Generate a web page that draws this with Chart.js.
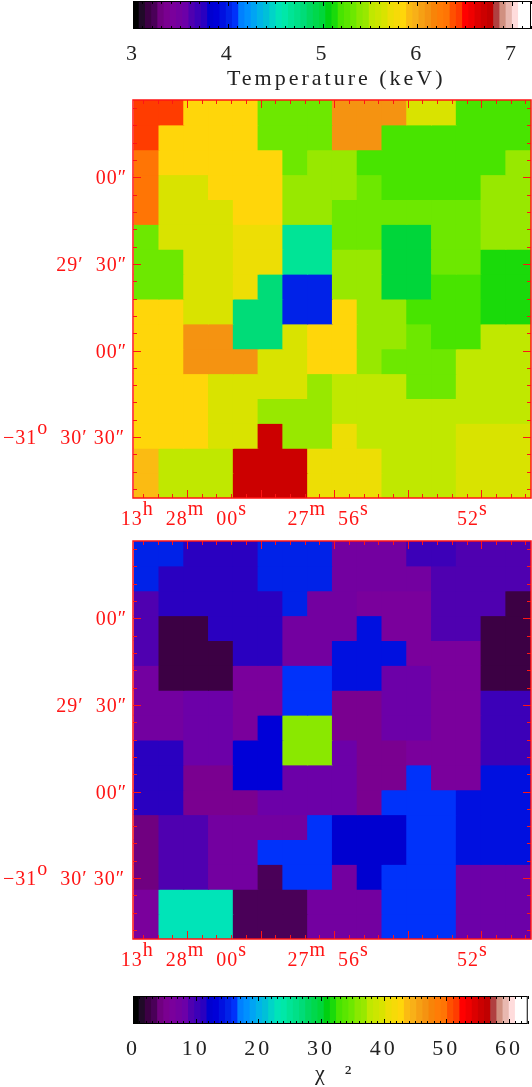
<!DOCTYPE html>
<html>
<head>
<meta charset="utf-8">
<title>Temperature and chi-square maps</title>
<script src="https://cdn.jsdelivr.net/npm/chart.js@4/dist/chart.umd.min.js"></script>
<style>
  body { margin: 0; background: #fff; }
  canvas { position: absolute; left: 0; }
</style>
</head>
<body>
<canvas id="tempBar" width="532" height="92" style="top:0"></canvas>
<canvas id="tempMap" width="532" height="445" style="top:90px"></canvas>
<canvas id="chiMap" width="532" height="445" style="top:535px"></canvas>
<canvas id="chiBar" width="532" height="102" style="top:985px"></canvas>
<script>
// Fitted temperature per cell (keV), top row first
const tempGrid = [
  [6.45,6.45,5.85,5.85,5.85,5.33,5.33,5.33,6.12,6.12,6.12,5.66,5.66,5.20,5.20,5.20],
  [6.45,5.85,5.85,5.85,5.85,5.33,5.33,5.33,6.12,6.12,5.20,5.20,5.20,5.20,5.20,5.20],
  [6.31,5.85,5.85,5.85,5.85,5.85,5.33,5.46,5.46,5.20,5.20,5.20,5.20,5.20,5.20,5.46],
  [6.31,5.66,5.66,5.85,5.85,5.85,5.46,5.46,5.46,5.33,5.20,5.20,5.20,5.20,5.46,5.46],
  [6.31,5.66,5.66,5.66,5.85,5.85,5.46,5.46,5.33,5.33,5.33,5.33,5.33,5.33,5.46,5.46],
  [5.33,5.66,5.66,5.66,5.72,5.72,4.67,4.67,5.33,5.33,4.99,4.99,5.33,5.33,5.46,5.46],
  [5.33,5.33,5.66,5.66,5.72,5.72,4.67,4.67,5.46,5.46,4.99,4.99,5.33,5.33,5.13,5.13],
  [5.33,5.33,5.66,5.66,5.72,4.80,4.02,4.02,5.46,5.46,4.99,4.99,5.20,5.20,5.13,5.13],
  [5.85,5.85,5.66,5.66,4.80,4.80,4.02,4.02,5.85,5.46,5.46,5.20,5.20,5.20,5.13,5.13],
  [5.85,5.85,6.12,6.12,4.80,4.80,5.66,5.85,5.85,5.46,5.46,5.33,5.20,5.20,5.53,5.53],
  [5.85,5.85,6.12,6.12,6.12,5.66,5.66,5.85,5.85,5.46,5.33,5.33,5.33,5.53,5.53,5.53],
  [5.85,5.85,5.85,5.66,5.66,5.66,5.66,5.46,5.53,5.53,5.53,5.33,5.33,5.53,5.53,5.53],
  [5.85,5.85,5.85,5.66,5.66,5.46,5.46,5.46,5.53,5.53,5.53,5.53,5.53,5.53,5.53,5.53],
  [5.85,5.85,5.85,5.66,5.66,6.71,5.46,5.46,5.72,5.53,5.53,5.53,5.53,5.66,5.66,5.66],
  [5.92,5.53,5.53,5.53,6.71,6.71,6.71,5.72,5.72,5.72,5.53,5.53,5.53,5.66,5.66,5.66],
  [5.92,5.53,5.53,5.53,6.71,6.71,6.71,5.72,5.72,5.72,5.53,5.53,5.53,5.66,5.66,5.66]
];

// Chi-square per cell, top row first
const chiGrid = [
  [15.3,15.3,11.3,11.3,11.3,15.3,15.3,15.3,7.4,7.4,7.4,10.3,10.3,9.4,9.4,9.4],
  [15.3,11.3,11.3,11.3,11.3,15.3,15.3,15.3,7.4,7.4,7.4,7.4,9.4,9.4,9.4,9.4],
  [9.4,11.3,11.3,11.3,11.3,11.3,15.3,7.4,7.4,6.4,6.4,6.4,9.4,9.4,9.4,2.5],
  [9.4,2.5,2.5,11.3,11.3,11.3,7.4,7.4,7.4,14.3,6.4,6.4,9.4,9.4,2.5,2.5],
  [9.4,2.5,2.5,2.5,11.3,11.3,7.4,7.4,14.3,14.3,14.3,6.4,6.4,6.4,2.5,2.5],
  [7.4,2.5,2.5,2.5,6.4,6.4,16.2,16.2,14.3,14.3,8.4,8.4,6.4,6.4,2.5,2.5],
  [7.4,7.4,8.4,8.4,6.4,6.4,16.2,16.2,5.4,5.4,8.4,8.4,6.4,6.4,10.3,10.3],
  [7.4,7.4,8.4,8.4,6.4,13.3,35.9,35.9,5.4,5.4,8.4,8.4,6.4,6.4,10.3,10.3],
  [11.3,11.3,8.4,8.4,13.3,13.3,35.9,35.9,8.4,5.4,5.4,6.4,6.4,6.4,10.3,10.3],
  [11.3,11.3,5.4,5.4,13.3,13.3,8.4,8.4,8.4,5.4,5.4,16.2,6.4,6.4,14.3,14.3],
  [11.3,11.3,5.4,5.4,5.4,8.4,8.4,8.4,8.4,5.4,16.2,16.2,16.2,14.3,14.3,14.3],
  [4.4,9.4,9.4,7.4,7.4,7.4,7.4,16.2,12.3,12.3,12.3,16.2,16.2,14.3,14.3,14.3],
  [4.4,9.4,9.4,7.4,7.4,16.2,16.2,16.2,12.3,12.3,12.3,16.2,16.2,14.3,14.3,14.3],
  [4.4,9.4,9.4,7.4,7.4,3.4,16.2,16.2,7.4,12.3,16.2,16.2,16.2,8.4,8.4,8.4],
  [6.4,23.1,23.1,23.1,3.4,3.4,3.4,7.4,7.4,7.4,16.2,16.2,16.2,8.4,8.4,8.4],
  [6.4,23.1,23.1,23.1,3.4,3.4,3.4,7.4,7.4,7.4,16.2,16.2,16.2,8.4,8.4,8.4]
];

// Axis labels. ^x means the next character is raised
const raTicks = [60, 56, 52];
const raLabels = ['13^h  28^m  00^s', '27^m  56^s', '52^s'];
const decTicks = [-1740, -1770, -1800, -1830];
const decLabels = ['00\u2033', '29\u2032  30\u2033', '00\u2033', '\u221231^o  30\u2032 30\u2033'];
const tempTicks = [3, 4, 5, 6, 7];
const chiTicks = [0, 10, 20, 30, 40, 50, 60];

// Colour table as seen on the two colour bars
const palette = [
  '#000000','#200a28','#3c0044','#4a0058','#700080','#7a0090','#7a009c','#7300a0',
  '#6c00a8','#4f00b0','#3c00b8','#2a00c0','#0000d0','#0000d8','#0010e0','#0022e8',
  '#0032fa','#0080ff','#0090ff','#00a4f4','#00b4e8','#00c0d8','#00d4c8','#00e4b8',
  '#00e8a8','#00e496','#00e088','#00dc78','#00d860','#00d84c','#00d63a','#00d010',
  '#1ada0a','#48e400','#5ae600','#6de800','#8ae800','#98e800','#c0e800','#cce600',
  '#d9e300','#edde05','#f6da08','#ffd60a','#fbbb12','#f8b018','#f6a014','#f59311',
  '#f88408','#ff7c06','#ff7505','#ff5000','#ff3c00','#ff0000','#f00000','#dc0000',
  '#cc0000','#c00000','#b04040','#d09080','#e8b8b0','#ffdcdc','#ffffff','#ffffff'
];

const FONT = '"Liberation Serif", serif';
const RED = '#ff1414';

// Sky coordinates of the map edges: RA seconds and Dec arcsec from -31 deg
const raLeft = 61.466, raRight = 50.649;
const decTop = -1713.2, decBottom = -1851.1;
// The cell grid starts a little inside the left edge of the frame
const gridLeft = 61.433, cellRa = 0.6734;

function colourOf(v, min, max) {
  const i = Math.floor((v - min) / (max - min) * palette.length);
  return palette[Math.max(0, Math.min(palette.length - 1, i))];
}

function steps(from, to, step) {
  const out = [];
  const n = Math.round((to - from) / step);
  for (let i = 0; i <= n; i++) out.push(from + i * step);
  return out;
}

// Text with raised characters, the canvas text api has no superscript
function drawLabel(ctx, text, x, y, align) {
  const parts = text.split(/(\^.)/).filter(p => p !== '');
  ctx.font = '20px ' + FONT;
  ctx.letterSpacing = '1px';
  ctx.textAlign = 'left';
  ctx.textBaseline = 'alphabetic';
  const widths = parts.map(p => ctx.measureText(p.replace('^', '')).width);
  const total = widths.reduce((a, b) => a + b, 0);
  let cx = align === 'right' ? x - total : x - total / 2;
  parts.forEach((p, i) => {
    const raised = p[0] === '^';
    ctx.fillText(p.replace('^', ''), cx, raised ? y - 10 : y);
    cx += widths[i];
  });
  ctx.letterSpacing = '0px';
}

const mapPlugin = {
  id: 'mapFrame',
  afterDraw(chart) {
    const { ctx, chartArea: a, scales } = chart;
    ctx.save();
    ctx.strokeStyle = RED;
    ctx.fillStyle = RED;
    ctx.lineWidth = 1;
    ctx.beginPath();
    steps(50.8, 61.2, 0.4).forEach(v => {
      const big = Math.abs(v / 2 - Math.round(v / 2)) < 0.01;
      const len = big ? 8 : 4;
      const px = Math.round(scales.x.getPixelForValue(v)) + 0.5;
      ctx.moveTo(px, a.top); ctx.lineTo(px, a.top + len);
      ctx.moveTo(px, a.bottom); ctx.lineTo(px, a.bottom - len);
    });
    steps(-1848, -1716, 6).forEach(v => {
      const big = decTicks.includes(v);
      const len = big ? 8 : 4;
      const py = Math.round(scales.y.getPixelForValue(v)) + 0.5;
      ctx.moveTo(a.left, py); ctx.lineTo(a.left + len, py);
      ctx.moveTo(a.right, py); ctx.lineTo(a.right - len, py);
    });
    ctx.stroke();
    ctx.lineWidth = 1.5;
    ctx.strokeRect(a.left, a.top, a.right - a.left, a.bottom - a.top);

    // IDL left the long labels off centre of their ticks
    const shift = [-3, -6, -9];
    raTicks.forEach((v, i) => {
      drawLabel(ctx, raLabels[i], scales.x.getPixelForValue(v) + shift[i], a.bottom + 27, 'center');
    });
    decTicks.forEach((v, i) => {
      drawLabel(ctx, decLabels[i], i === 3 ? 125 : 127, scales.y.getPixelForValue(v) + 7, 'right');
    });
    ctx.restore();
  }
};

function makeMap(id, grid, min, max, top, bottom) {
  const cellDec = (decTop - decBottom) / grid.length;
  const datasets = grid.map((row, r) => ({
    data: row.map((v, c) => ({
      x: gridLeft - (c + 0.5) * cellRa,
      y: [decTop - (r + 1) * cellDec, decTop - r * cellDec]
    })),
    backgroundColor: row.map(v => colourOf(v, min, max)),
    borderWidth: 0,
    inflateAmount: 0.5,
    grouped: false,
    barPercentage: 1,
    categoryPercentage: 1
  }));
  return new Chart(document.getElementById(id), {
    type: 'bar',
    data: { datasets },
    options: {
      responsive: false,
      animation: false,
      layout: { padding: { left: 133, right: 1, top, bottom } },
      plugins: { legend: { display: false }, tooltip: { enabled: false } },
      scales: {
        x: { type: 'linear', reverse: true, offset: false, min: raRight, max: raLeft, display: false },
        y: { type: 'linear', min: decBottom, max: decTop, display: false }
      }
    },
    plugins: [mapPlugin]
  });
}

// Colour bars are one row of bars, one bar per table entry
function makeBar(id, min, max, ticks, minorStep, title, top) {
  const step = (max - min) / palette.length;
  const data = palette.map((c, i) => ({ x: min + (i + 0.5) * step, y: [0, 1] }));
  return new Chart(document.getElementById(id), {
    type: 'bar',
    data: {
      datasets: [{
        data,
        backgroundColor: palette,
        borderWidth: 0,
        inflateAmount: 0.5,
        barPercentage: 1,
        categoryPercentage: 1
      }]
    },
    options: {
      responsive: false,
      animation: false,
      layout: { padding: { left: 133, right: 1, top, bottom: 0 } },
      plugins: { legend: { display: false }, tooltip: { enabled: false } },
      scales: {
        x: {
          type: 'linear',
          offset: false,
          min,
          max,
          afterFit(scale) { scale.height = 63; },
          afterBuildTicks(scale) { scale.ticks = ticks.map(value => ({ value })); },
          grid: { display: false, drawTicks: false, offset: false },
          border: { display: false },
          ticks: { color: '#222', font: { family: FONT, size: 22 }, padding: 12, maxRotation: 0, autoSkip: false },
          title: { display: true, text: title, color: '#222', font: { family: FONT, size: 22 }, padding: 0 }
        },
        y: { type: 'linear', min: 0, max: 1, display: false }
      }
    },
    plugins: [{
      id: 'barFrame',
      beforeDraw(chart) { chart.ctx.letterSpacing = '3px'; },
      afterDraw(chart) {
        const { ctx, chartArea: a, scales } = chart;
        ctx.save();
        ctx.strokeStyle = '#000';
        ctx.lineWidth = 1;
        ctx.beginPath();
        steps(min, max, minorStep).forEach(v => {
          const len = ticks.includes(Math.round(v * 1000) / 1000) ? 5 : 3;
          const px = Math.round(scales.x.getPixelForValue(v)) + 0.5;
          ctx.moveTo(px, a.top); ctx.lineTo(px, a.top + len);
          ctx.moveTo(px, a.bottom); ctx.lineTo(px, a.bottom - len);
        });
        ctx.stroke();
        ctx.strokeRect(a.left + 0.5, a.top + 0.5, a.right - a.left - 1, a.bottom - a.top - 1);
        ctx.restore();
      }
    }]
  });
}

makeBar('tempBar', 3, 7.2, tempTicks, 0.1, ' Temperature (keV)', 1);
makeMap('tempMap', tempGrid, 3, 7.2, 10, 37);
makeMap('chiMap', chiGrid, 0, 63, 6, 41);
makeBar('chiBar', 0, 63, chiTicks, 1, ' \u03c7  \u00b2', 11);
</script>
</body>
</html>
